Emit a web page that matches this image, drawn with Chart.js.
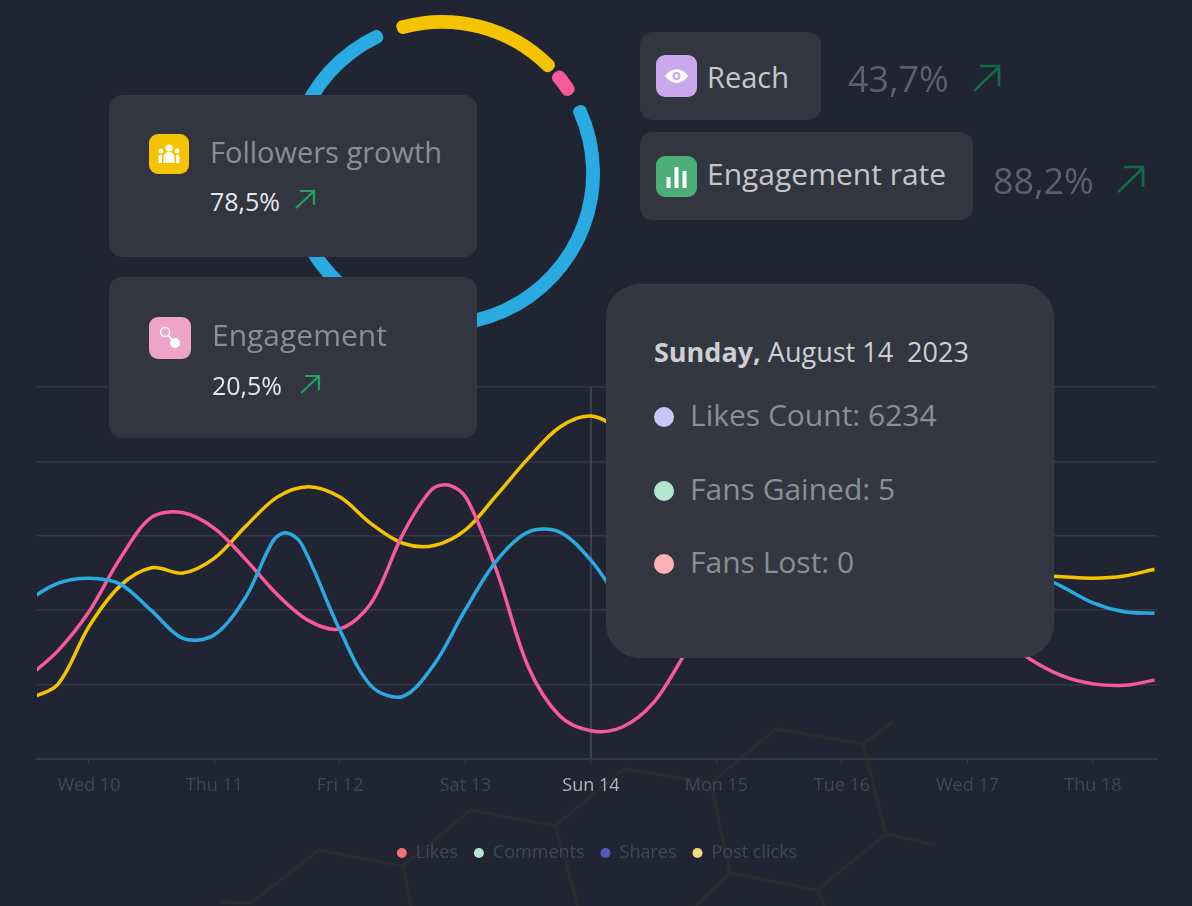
<!DOCTYPE html>
<html>
<head>
<meta charset="utf-8">
<title>Engagement overview</title>
<script src="https://cdn.jsdelivr.net/npm/chart.js@4"></script>
<style>
  html, body { margin: 0; padding: 0; background: #212533; }
  body { position: relative; width: 1192px; height: 906px; overflow: hidden; font-family: "Open Sans", sans-serif; }
  canvas, svg.bg { position: absolute; }
  #chartLineas { left: 0; top: 0; }
  #chartAnillo { left: 282px; top: 13px; }
  .card { position: absolute; background: #333541; border-radius: 13px; }
  .txt { position: absolute; white-space: nowrap; line-height: 1; transform: translateY(-50%); }
  .titulo { font-size: 30px; color: #8d8e94; }
  .claro { color: #c6c6c9; }
  .valor { font-size: 25px; color: #e8e8ea; }
  .grande { font-size: 36px; color: #5e606b; }
  .icono { position: absolute; border-radius: 9px; }
  .flecha { position: absolute; fill: none; stroke-width: 2.2; }
  #tooltip { position: absolute; left: 606px; top: 284px; width: 446px; height: 372px; background: #343641; border: 1px solid #3a3c48; border-radius: 34px; }
  #tooltip .punto { position: absolute; left: 47px; width: 20px; height: 20px; border-radius: 50%; }
</style>
</head>
<body>
<svg class="bg" width="1192" height="906" style="left:0;top:0" fill="none" stroke="#2a2a30" stroke-width="3.5">
  <polyline points="220,902 251,903 319,850 403,866 411,906"/>
  <polyline points="403,866 471,810 555,826 624,769 711,783 730,873 817,890 825,906"/>
  <polyline points="555,826 578,906"/>
  <polyline points="711,783 776,729 863,744 894,721"/>
  <polyline points="863,744 886,834 935,845"/>
  <polyline points="886,834 817,890"/>
  <polyline points="730,873 696,906"/>
</svg>
<canvas id="chartLineas" width="1192" height="906"></canvas>
<canvas id="chartAnillo" width="320" height="320"></canvas>

<div class="card" style="left:109px;top:95px;width:368px;height:162px"></div>
<div class="card" style="left:109px;top:277px;width:368px;height:161px"></div>
<div class="card" style="left:640px;top:32px;width:181px;height:88px"></div>
<div class="card" style="left:640px;top:132px;width:333px;height:88px"></div>

<!-- Followers growth -->
<svg class="icono" style="left:149px;top:134px;background:#f5c400" width="40" height="40" viewBox="0 0 40 40" fill="#fff">
  <circle cx="20" cy="14" r="3.6"/><circle cx="12" cy="17" r="2.4"/><circle cx="28" cy="17" r="2.4"/>
  <path d="M14.5 29v-6a5.5 5 0 0 1 11 0v6z"/><path d="M9.5 29v-6a2.5 2.5 0 0 1 3.5-2v8z"/><path d="M30.500 29v-6a2.500 2.500 0 0 0-3.500-2v8z"/>
</svg>
<div class="txt titulo" style="left:210px;top:151px;font-size:29px">Followers growth</div>
<div class="txt valor" style="left:210px;top:201px">78,5%</div>
<svg class="flecha" style="left:295px;top:189px;stroke:#1fa35f" width="21" height="21"><path d="M1 19L19 2M5 2h14v14"/></svg>

<!-- Engagement -->
<svg class="icono" style="left:149px;top:317px;background:#efa3c8" width="42" height="42" viewBox="0 0 42 42">
  <circle cx="16" cy="15" r="4.500" fill="none" stroke="#fff" stroke-width="1.500"/><path d="M19 18l5 6" stroke="#fff" stroke-width="1.500"/><circle cx="26" cy="26" r="5" fill="#fff"/>
</svg>
<div class="txt titulo" style="left:212px;top:335px">Engagement</div>
<div class="txt valor" style="left:212px;top:385px">20,5%</div>
<svg class="flecha" style="left:300px;top:374px;stroke:#1fa35f" width="21" height="21"><path d="M1 19L19 2M5 2h14v14"/></svg>

<!-- Reach -->
<svg class="icono" style="left:656px;top:55px;background:#c9a8ee" width="41" height="42" viewBox="0 0 41 42">
  <path d="M9 21c6-9 17-9 23 0c-6 9-17 9-23 0z" fill="#fff"/><circle cx="20.500" cy="21" r="4" fill="#c9a8ee"/><circle cx="20.500" cy="21" r="2" fill="#fff"/>
</svg>
<div class="txt titulo claro" style="left:707px;top:76px;font-size:29px">Reach</div>
<div class="txt grande" style="left:848px;top:79px">43,7%</div>
<svg class="flecha" style="left:972px;top:64px;stroke:#146b49;stroke-width:2.600" width="29" height="29"><path d="M2 27L27 3M8 2h19v20"/></svg>

<!-- Engagement rate -->
<svg class="icono" style="left:656px;top:156px;background:#4caf78" width="41" height="41" viewBox="0 0 41 41" fill="#fff">
  <rect x="10.500" y="21" width="4" height="11"/><rect x="18.500" y="11" width="4" height="21"/><rect x="26.500" y="15" width="4" height="17"/>
</svg>
<div class="txt titulo claro" style="left:707px;top:174px">Engagement rate</div>
<div class="txt grande" style="left:993px;top:181px">88,2%</div>
<svg class="flecha" style="left:1116px;top:165px;stroke:#146b49;stroke-width:2.600" width="29" height="29"><path d="M2 27L27 3M8 2h19v20"/></svg>

<div id="tooltip">
  <div class="txt" style="left:47px;top:66px;font-size:27px;color:#cfcfd2"><b>Sunday,</b> August 14&nbsp; 2023</div>
  <div class="punto" style="top:122px;background:#c7c8f9"></div>
  <div class="txt titulo" style="left:83px;top:130px">Likes Count: 6234</div>
  <div class="punto" style="top:196px;background:#b7e6ce"></div>
  <div class="txt titulo" style="left:83px;top:204px">Fans Gained: 5</div>
  <div class="punto" style="top:269px;background:#ffb3b3"></div>
  <div class="txt titulo" style="left:83px;top:277px">Fans Lost: 0</div>
</div>

<script>
// Datos: x = dias desde Wed 10, y = valor sobre el eje
const diasEje = ["Wed 10", "Thu 11", "Fri 12", "Sat 13", "Sun 14", "Mon 15", "Tue 16", "Wed 17", "Thu 18"];

const rosaDias = [-0.5, -0.25, 0, 0.25, 0.5, 0.75, 1, 1.25, 1.5, 1.75, 2, 2.25, 2.5, 2.73, 2.87, 3.01, 3.25, 3.5, 3.75, 4, 4.25, 4.5, 4.75, 5, 5.25, 5.5, 5.75, 6, 6.25, 6.5, 6.75, 7, 7.25, 7.5, 7.75, 8, 8.25, 8.49];
const rosaValores = [108, 145, 198, 270, 325, 331, 310, 268, 221, 186, 175, 210, 302, 362, 368, 350, 252, 124, 58, 38, 43, 76, 142, 210, 262, 295, 315, 320, 308, 280, 245, 205, 165, 134, 112, 101, 99, 106];

const azulDias = [-0.5, -0.25, 0, 0.25, 0.5, 0.75, 1, 1.25, 1.47, 1.57, 1.69, 2, 2.25, 2.5, 2.75, 3, 3.25, 3.5, 3.75, 4, 4.25, 4.5, 4.75, 5, 5.25, 5.5, 5.75, 6, 6.25, 6.5, 6.75, 7, 7.25, 7.5, 7.75, 8, 8.25, 8.49];
const azulValores = [212, 236, 243, 235, 199, 162, 167, 218, 294, 304, 290, 173, 98, 84, 127, 201, 267, 305, 305, 267, 210, 175, 178, 195, 218, 240, 255, 265, 273, 280, 283, 280, 268, 252, 232, 210, 198, 196];

const amarilloDias = [-0.5, -0.25, 0, 0.25, 0.5, 0.75, 1, 1.25, 1.5, 1.75, 2, 2.25, 2.5, 2.75, 3, 3.25, 3.5, 3.75, 4, 4.25, 4.5, 4.75, 5, 5.25, 5.5, 5.75, 6, 6.25, 6.5, 6.75, 7, 7.25, 7.5, 7.75, 8, 8.25, 8.49];
const amarilloValores = [80, 100, 178, 233, 257, 250, 270, 313, 352, 366, 352, 316, 290, 287, 308, 355, 404, 446, 461, 440, 400, 385, 370, 355, 340, 320, 300, 285, 275, 266, 260, 252, 247, 245, 243, 246, 255];

const leyendaTextos = ["Likes", "Comments", "Shares", "Post clicks"];
const leyendaColores = ["#f0716f", "#b7e6ce", "#5458c0", "#f0dc82"];

const anilloValores = [18.5, 3, 78.5];
const anilloColores = ["#f5c400", "#f9589a", "#29abe2"];

const diaActivo = 4;

Chart.defaults.font.family = '"Open Sans", sans-serif';
Chart.defaults.animation = false;

function serie(dias, valores, color) {
  return {
    data: dias.map((d, i) => ({ x: d, y: valores[i] })),
    borderColor: color,
    borderWidth: 3.5,
    pointRadius: 0,
    tension: 0.33,
    fill: false,
  };
}

// Linea vertical del dia activo
const lineaActiva = {
  id: "lineaActiva",
  beforeDatasetsDraw(chart) {
    const { ctx, chartArea, scales } = chart;
    const x = scales.x.getPixelForValue(diaActivo);
    ctx.save();
    ctx.strokeStyle = "#484b5c";
    ctx.lineWidth = 1.5;
    ctx.beginPath();
    ctx.moveTo(x, chartArea.top);
    ctx.lineTo(x, chartArea.bottom);
    ctx.stroke();
    ctx.restore();
  },
};

new Chart(document.getElementById("chartLineas"), {
  type: "line",
  data: {
    datasets: [
      serie(azulDias, azulValores, "#29abe2"),
      serie(rosaDias, rosaValores, "#f9589a"),
      serie(amarilloDias, amarilloValores, "#f5c400"),
    ],
  },
  plugins: [lineaActiva],
  options: {
    responsive: false,
    layout: { padding: { left: 37, right: 35, top: 387, bottom: 34 } },
    scales: {
      x: {
        type: "linear",
        min: -0.414,
        max: 8.51,
        afterBuildTicks: (axis) => {
          axis.ticks = diasEje.map((_, i) => ({ value: i }));
        },
        afterFit: (axis) => {
          axis.height = 69;
        },
        grid: { drawOnChartArea: false, drawTicks: true, tickLength: 5, color: "#343746" },
        border: { color: "#343746", width: 2 },
        ticks: {
          autoSkip: false,
          maxRotation: 0,
          padding: 11,
          font: { size: 18 },
          color: (c) => (c.index === diaActivo ? "#b4b4b9" : "#434655"),
          callback: (v) => diasEje[v],
        },
      },
      y: {
        min: 0,
        max: 500,
        grid: { color: "#343746", lineWidth: 1.5, drawTicks: false },
        border: { display: false },
        ticks: { display: false, stepSize: 100 },
      },
    },
    plugins: {
      tooltip: { enabled: false },
      legend: {
        position: "bottom",
        labels: {
          usePointStyle: true,
          pointStyleWidth: 10,
          boxHeight: 7,
          padding: 16,
          font: { size: 18 },
          color: "#434655",
          generateLabels: () =>
            leyendaTextos.map((t, i) => ({
              text: t,
              fillStyle: leyendaColores[i],
              strokeStyle: leyendaColores[i],
              lineWidth: 0,
              pointStyle: "circle",
              fontColor: "#434655",
            })),
        },
      },
    },
  },
});

new Chart(document.getElementById("chartAnillo"), {
  type: "doughnut",
  data: {
    labels: ["Engagement", "Other", "Followers growth"],
    datasets: [
      {
        data: anilloValores,
        backgroundColor: anilloColores,
        borderWidth: 0,
        borderRadius: 6,
        spacing: 10,
      },
    ],
  },
  options: {
    responsive: false,
    rotation: -18.5,
    radius: 153,
    cutout: 141,
    plugins: { legend: { display: false }, tooltip: { enabled: false } },
  },
});
</script>
</body>
</html>
